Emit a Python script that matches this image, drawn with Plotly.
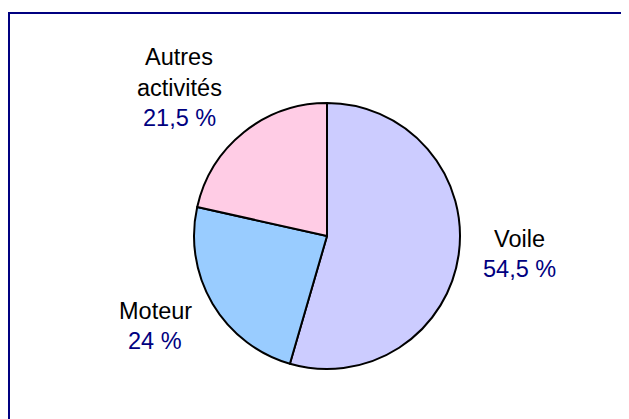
import plotly.graph_objects as go

categories = ["Voile", "Moteur", "Autres activités"]
values = [54.5, 24, 21.5]
value_labels = ["54,5 %", "24 %", "21,5 %"]
name_lines = [["Voile"], ["Moteur"], ["Autres", "activités"]]
colors = ["#CCCCFF", "#99CCFF", "#FFDDEE"]

W, H = 629, 419
OFF = 8  # page body margin of the browser

def px(x):
    return (x - OFF) / W

def py(y):
    return 1 - (y - OFF) / H

cx, cy, r = 327, 236, 133

fig = go.Figure(go.Pie(
    labels=categories,
    values=values,
    sort=False,
    direction="clockwise",
    rotation=0,
    textinfo="none",
    hoverinfo="label+percent",
    marker=dict(
        colors=colors,
        line=dict(color="black", width=2),
        pattern=dict(
            shape=["", "", "|"],
            fgcolor="#FF99CC",
            bgcolor=["#CCCCFF", "#99CCFF", "#FFFFFF"],
            size=2,
            solidity=0.5,
            fillmode="replace",
        ),
    ),
    domain=dict(x=[px(cx - r), px(cx + r)], y=[py(cy + r), py(cy - r)]),
    showlegend=False,
))

# label anchor positions (pixel centers x, baseline of first line y)
label_pos = [(519, 247), (155, 319), (179, 66)]
line_gap = 30.5
FS = 23.5
annotations = []
for i, (lx, ly) in enumerate(label_pos):
    lines = name_lines[i]
    for j, t in enumerate(lines):
        b = ly + j * line_gap
        annotations.append(dict(
            x=px(lx), y=py(b - 8.5), xref="paper", yref="paper",
            text=t, showarrow=False, xanchor="center", yanchor="middle",
            font=dict(family="Liberation Sans, Arial", size=FS, color="black"),
        ))
    b = ly + len(lines) * line_gap
    annotations.append(dict(
        x=px(lx), y=py(b - 8.5), xref="paper", yref="paper",
        text=value_labels[i], showarrow=False, xanchor="center", yanchor="middle",
        font=dict(family="Liberation Sans, Arial", size=FS, color="#000080"),
    ))

fig.update_layout(
    width=W, height=H,
    margin=dict(l=0, r=0, t=0, b=0),
    paper_bgcolor="white",
    plot_bgcolor="white",
    annotations=annotations,
    shapes=[dict(
        type="rect", xref="paper", yref="paper",
        x0=px(9), y0=py(460), x1=px(680), y1=py(13),
        line=dict(color="#000080", width=2), fillcolor="rgba(0,0,0,0)",
    )],
)

fig.write_html("out.html")
